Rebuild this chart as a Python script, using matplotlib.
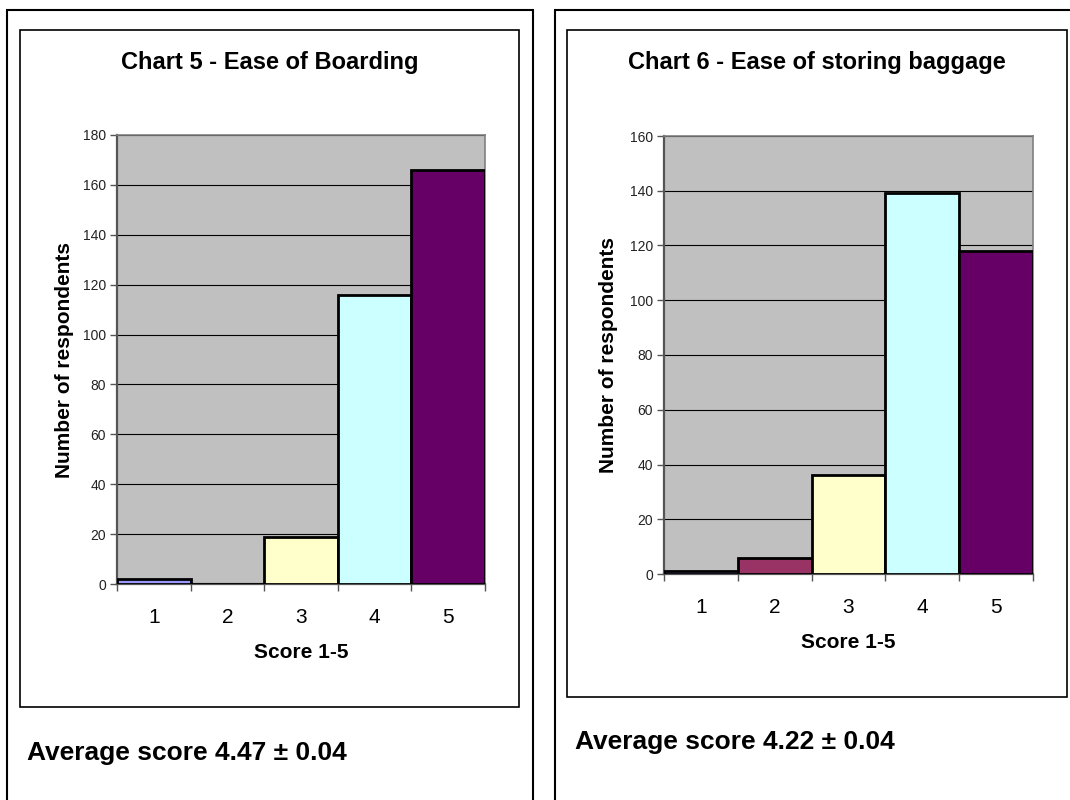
import matplotlib
matplotlib.use("Agg")
import matplotlib.pyplot as plt
from matplotlib.patches import Rectangle

plt.rcParams['font.family'] = ['Liberation Sans', 'DejaVu Sans']

# Survey data
scores = ["1", "2", "3", "4", "5"]
boarding_counts = [2, 0, 19, 116, 166]
baggage_counts = [1, 6, 36, 139, 118]

titles = ["Chart 5 - Ease of Boarding", "Chart 6 - Ease of storing baggage"]
averages = ["Average score 4.47 \u00b1 0.04", "Average score 4.22 \u00b1 0.04"]
y_limits = [180, 160]

bar_colors = ["#9999FF", "#993366", "#FFFFCC", "#CCFFFF", "#660066"]

W, H = 1070, 800
fig = plt.figure(figsize=(W / 100, H / 100), dpi=100)
fig.patch.set_facecolor("white")


def fx(x):
    return x / W


def fy(y):
    return 1 - y / H


def box(x0, y0, x1, y1, lw=1.5):
    fig.add_artist(Rectangle((fx(x0), fy(y1)), fx(x1) - fx(x0), fy(y0) - fy(y1),
                             transform=fig.transFigure, fill=False,
                             edgecolor="black", linewidth=lw, zorder=0))


def px_axes(x0, y0, x1, y1):
    return fig.add_axes([fx(x0), fy(y1), fx(x1) - fx(x0), fy(y0) - fy(y1)])


# Panel frames
box(7, 10, 533, 820)
box(555, 10, 1090, 820)
box(20, 30, 519, 707, lw=1.2)
box(567, 30, 1067, 697, lw=1.2)

panels = [
    dict(counts=boarding_counts, ax=(117, 135, 485, 584), title_xy=(270, 63),
         ylabel_xy=(65, 360), xlabel_xy=(301, 652), avg_xy=(27, 753)),
    dict(counts=baggage_counts, ax=(664, 136, 1033, 574), title_xy=(817, 63),
         ylabel_xy=(608, 355), xlabel_xy=(848, 642), avg_xy=(575, 742)),
]

for i, p in enumerate(panels):
    ax = px_axes(*p["ax"])
    ax.set_facecolor("#C0C0C0")
    pos = list(range(1, len(scores) + 1))
    ax.bar(pos, p["counts"], width=1.0, color=bar_colors, edgecolor="black",
           linewidth=2.0, zorder=3)
    ax.set_xlim(0.5, len(scores) + 0.5)
    ax.set_ylim(0, y_limits[i])
    ax.set_yticks(range(0, y_limits[i] + 1, 20))
    ax.yaxis.grid(True, color="black", linewidth=0.8, zorder=1)
    ax.set_axisbelow(True)
    ax.set_xticks(pos)
    ax.set_xticklabels(scores, fontsize=15)
    ax.set_xticks([x + 0.5 for x in range(0, len(scores) + 1)], minor=True)
    ax.tick_params(axis="x", which="major", length=0, pad=17)
    ax.tick_params(axis="x", which="minor", length=5, width=1, color="#555555",
                   direction="out")
    ax.tick_params(axis="y", length=5, width=1, color="#555555", labelsize=10,
                   pad=3, labelcolor="#222222")
    for side in ("top", "right"):
        ax.spines[side].set_color("#808080")
        ax.spines[side].set_linewidth(1.2)
    for side in ("left", "bottom"):
        ax.spines[side].set_color("#555555")
        ax.spines[side].set_linewidth(1.6)

    tx, ty = p["title_xy"]
    fig.text(fx(tx), fy(ty), titles[i], ha="center", va="center",
             fontsize=17, fontweight="bold")
    lx, ly = p["ylabel_xy"]
    fig.text(fx(lx), fy(ly), "Number of respondents", ha="center", va="center",
             rotation=90, fontsize=15, fontweight="bold")
    xx, xy = p["xlabel_xy"]
    fig.text(fx(xx), fy(xy), "Score 1-5", ha="center", va="center",
             fontsize=15, fontweight="bold")
    axx, axy = p["avg_xy"]
    fig.text(fx(axx), fy(axy), averages[i], ha="left", va="center",
             fontsize=19, fontweight="bold")

fig.savefig("out.png", dpi=100)
